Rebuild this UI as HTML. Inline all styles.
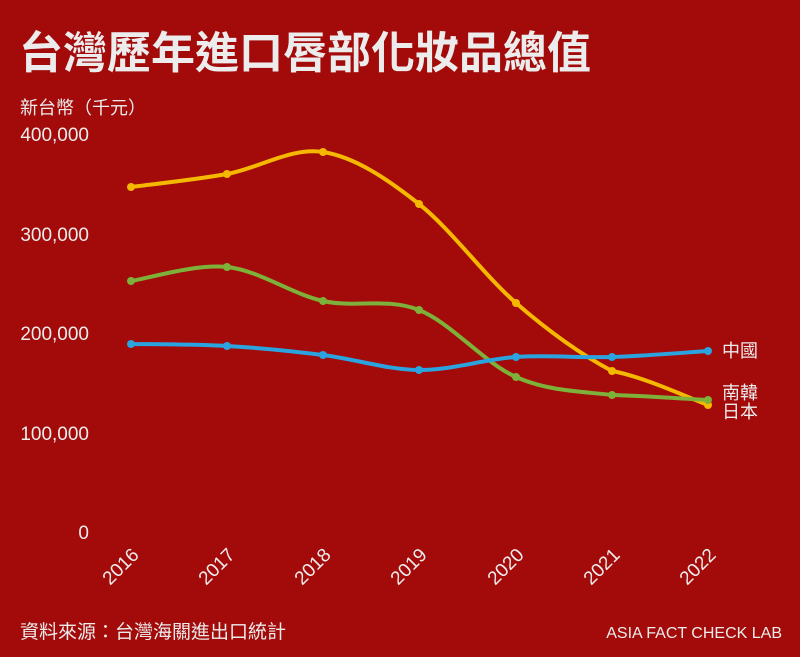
<!DOCTYPE html>
<html><head><meta charset="utf-8"><style>
html,body{margin:0;padding:0;background:#A30A0A;}
svg{display:block;}
text{font-family:"Liberation Sans","Noto Sans CJK TC",sans-serif;fill:#ECECEC;}
</style></head><body>
<svg width="800" height="657" viewBox="0 0 800 657" xmlns="http://www.w3.org/2000/svg">
<rect width="800" height="657" fill="#A30A0A"/>
<text x="19" y="68" font-size="44" font-weight="bold" fill="#F2F2F2">台灣歷年進口唇部化妝品總值</text>
<text x="20" y="114" font-size="18">新台幣（千元）</text>
<g font-size="19" text-anchor="end">
<text x="89" y="141">400,000</text>
<text x="89" y="241">300,000</text>
<text x="89" y="340">200,000</text>
<text x="89" y="440">100,000</text>
<text x="89" y="539">0</text>
</g>
<g font-size="19" text-anchor="end">
<text transform="translate(140,556) rotate(-45)">2016</text>
<text transform="translate(236,556) rotate(-45)">2017</text>
<text transform="translate(332,556) rotate(-45)">2018</text>
<text transform="translate(428,556) rotate(-45)">2019</text>
<text transform="translate(525,556) rotate(-45)">2020</text>
<text transform="translate(621,556) rotate(-45)">2021</text>
<text transform="translate(717,556) rotate(-45)">2022</text>
</g>
<g fill="none" stroke-width="4" stroke-linecap="round">
<path stroke="#F5B800" d="M131,187 C147,184.8 195,179.8 227,174 C259,168.2 291,147 323,152 C355,157 387,178.8 419,204 C451,229.2 484,275.2 516,303 C548,330.8 580,354 612,371 C644,376.7 692,399.3 708,405"/>
<path stroke="#7DB13A" d="M131,281 C147,278.7 195,263.7 227,267 C259,270.3 291,293.8 323,301 C355,308.2 387,297.3 419,310 C451,322.7 484,362.8 516,377 C548,391.2 580,391.2 612,395 C644,395.8 692,399.2 708,400"/>
<path stroke="#2BA3DF" d="M131,344 C147,344.3 195,344.2 227,346 C259,347.8 291,351 323,355 C355,359 387,369.7 419,370 C451,370.3 484,359.2 516,357 C548,354.8 580,358 612,357 C644,356 692,352 708,351"/>
</g>
<g fill="#F5B800"><circle cx="131" cy="187" r="4"/><circle cx="227" cy="174" r="4"/><circle cx="323" cy="152" r="4"/><circle cx="419" cy="204" r="4"/><circle cx="516" cy="303" r="4"/><circle cx="612" cy="371" r="4"/><circle cx="708" cy="405" r="4"/></g>
<g fill="#7DB13A"><circle cx="131" cy="281" r="4"/><circle cx="227" cy="267" r="4"/><circle cx="323" cy="301" r="4"/><circle cx="419" cy="310" r="4"/><circle cx="516" cy="377" r="4"/><circle cx="612" cy="395" r="4"/><circle cx="708" cy="400" r="4"/></g>
<g fill="#2BA3DF"><circle cx="131" cy="344" r="4"/><circle cx="227" cy="346" r="4"/><circle cx="323" cy="355" r="4"/><circle cx="419" cy="370" r="4"/><circle cx="516" cy="357" r="4"/><circle cx="612" cy="357" r="4"/><circle cx="708" cy="351" r="4"/></g>
<g font-size="18">
<text x="722" y="357">中國</text>
<text x="722" y="399">南韓</text>
<text x="722" y="418">日本</text>
</g>
<text x="20" y="638" font-size="19">資料來源：台灣海關進出口統計</text>
<text x="782" y="638" font-size="16" text-anchor="end">ASIA FACT CHECK LAB</text>
</svg>
</body></html>
